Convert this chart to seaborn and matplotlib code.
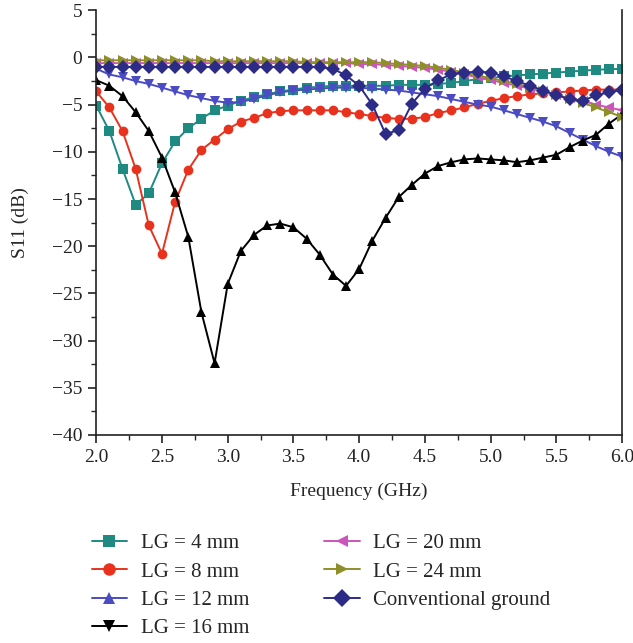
import numpy as np
import pandas as pd
import matplotlib
matplotlib.use("Agg")
import matplotlib.pyplot as plt
from matplotlib.lines import Line2D
from matplotlib.ticker import MultipleLocator
import seaborn as sns

# -----------------------------
# Data (S11 in dB, 2.0 - 6.0 GHz, 0.1 GHz step)
# -----------------------------
freq = [round(2.0 + 0.1 * i, 1) for i in range(41)]

lg4 = [-5.1, -7.8, -11.8, -15.6, -14.4, -11.2, -8.9, -7.5, -6.5, -5.6,
       -5.1, -4.6, -4.2, -3.9, -3.6, -3.4, -3.2, -3.1, -3.0, -3.0,
       -3.0, -3.0, -3.0, -2.9, -2.9, -2.9, -2.8, -2.7, -2.5, -2.3,
       -2.2, -2.0, -1.9, -1.8, -1.7, -1.6, -1.5, -1.4, -1.3, -1.25, -1.2]

lg8 = [-3.6, -5.3, -7.8, -11.8, -17.8, -20.8, -15.3, -11.9, -9.8, -8.7,
       -7.6, -6.8, -6.4, -5.9, -5.7, -5.6, -5.6, -5.6, -5.6, -5.8,
       -6.0, -6.2, -6.4, -6.5, -6.5, -6.3, -5.9, -5.6, -5.3, -4.9,
       -4.6, -4.3, -4.1, -3.9, -3.8, -3.7, -3.6, -3.5, -3.4, -3.4, -3.4]

lg12 = [-1.2, -1.8, -2.1, -2.5, -2.8, -3.2, -3.6, -4.0, -4.3, -4.6,
        -4.8, -4.7, -4.4, -4.0, -3.7, -3.5, -3.4, -3.3, -3.2, -3.2,
        -3.2, -3.3, -3.4, -3.5, -3.7, -3.9, -4.1, -4.4, -4.7, -5.0,
        -5.2, -5.6, -6.0, -6.4, -6.8, -7.3, -8.0, -8.7, -9.4, -10.0, -10.5]

lg16 = [-2.4, -3.0, -4.1, -5.8, -7.8, -10.6, -14.3, -19.0, -27.0, -32.4,
        -24.0, -20.5, -18.8, -17.8, -17.6, -18.0, -19.2, -20.9, -23.0, -24.2,
        -22.4, -19.4, -17.0, -14.8, -13.5, -12.3, -11.5, -11.1, -10.8, -10.7,
        -10.8, -10.9, -11.1, -10.9, -10.6, -10.3, -9.5, -8.8, -8.2, -7.0, -6.0]

lg20 = [-0.6, -0.6, -0.6, -0.6, -0.6, -0.6, -0.6, -0.6, -0.6, -0.6,
        -0.6, -0.6, -0.6, -0.6, -0.6, -0.6, -0.6, -0.6, -0.6, -0.6,
        -0.7, -0.7, -0.8, -0.9, -1.0, -1.1, -1.3, -1.5, -1.8, -2.1,
        -2.4, -2.7, -3.0, -3.3, -3.6, -4.0, -4.3, -4.6, -5.0, -5.3, -5.6]

lg24 = [-0.3, -0.3, -0.3, -0.3, -0.3, -0.3, -0.3, -0.3, -0.3, -0.4,
        -0.4, -0.4, -0.4, -0.4, -0.4, -0.4, -0.5, -0.5, -0.5, -0.5,
        -0.5, -0.5, -0.6, -0.7, -0.8, -0.9, -1.1, -1.3, -1.6, -1.9,
        -2.2, -2.5, -2.8, -3.2, -3.6, -4.0, -4.4, -4.8, -5.3, -5.8, -6.3]

conv = [-1.0, -1.0, -1.0, -1.0, -1.0, -1.0, -1.0, -1.0, -1.0, -1.0,
        -1.0, -1.0, -1.0, -1.0, -1.0, -1.0, -1.0, -1.0, -1.2, -1.9,
        -3.0, -5.0, -8.1, -7.7, -4.9, -3.3, -2.4, -1.8, -1.6, -1.5,
        -1.6, -2.0, -2.5, -3.0, -3.5, -4.0, -4.4, -4.6, -4.0, -3.7, -3.4]

labels = ["LG = 4 mm", "LG = 8 mm", "LG = 12 mm", "LG = 16 mm",
          "LG = 20 mm", "LG = 24 mm", "Conventional ground"]
series = [lg4, lg8, lg12, lg16, lg20, lg24, conv]
colors = ["#1e8a82", "#e8321e", "#4b4bc4", "#000000",
          "#cc55bb", "#8f8f2a", "#2c2c86"]
plot_markers = ["s", "o", "v", "^", "<", ">", "D"]
legend_markers = ["s", "o", "^", "v", "<", ">", "D"]

df = pd.DataFrame({
    "freq": freq * len(labels),
    "s11": [v for s in series for v in s],
    "series": [lab for lab in labels for _ in freq],
})

# -----------------------------
# Plot
# -----------------------------
sns.set_style("ticks")
plt.rcParams["font.family"] = ["Liberation Serif", "DejaVu Serif"]

fig = plt.figure(figsize=(6.33, 6.43), dpi=100)
ax = fig.add_axes([0.152, 0.3235, 0.831, 0.6605])

sns.lineplot(data=df, x="freq", y="s11", hue="series", style="series",
             hue_order=labels, style_order=labels,
             palette=dict(zip(labels, colors)),
             markers=dict(zip(labels, plot_markers)), dashes=False,
             markersize=7, markeredgewidth=0, linewidth=1.4,
             legend=False, ax=ax)

ax.set_xlim(2.0, 6.0)
ax.set_ylim(-40, 5)
ax.xaxis.set_major_locator(MultipleLocator(0.5))
ax.xaxis.set_minor_locator(MultipleLocator(0.25))
ax.yaxis.set_major_locator(MultipleLocator(5))
ax.yaxis.set_minor_locator(MultipleLocator(2.5))
ax.set_xticklabels([f"{t:.1f}" for t in ax.get_xticks()])
ax.set_yticklabels([f"{int(t)}".replace("-", "\u2212") for t in ax.get_yticks()])
ax.tick_params(which="major", direction="out", length=6, width=1.2,
               labelsize=14, colors="#222222", pad=4)
ax.tick_params(which="minor", direction="out", length=3.5, width=1.0)
ax.set_xlabel("Frequency (GHz)", fontsize=14, labelpad=12)
ax.set_ylabel("S11 (dB)", fontsize=14, labelpad=16)
ax.spines["top"].set_visible(False)
for side in ["left", "bottom", "right"]:
    ax.spines[side].set_linewidth(1.2)
    ax.spines[side].set_color("#222222")

handles = [Line2D([0], [0], color=c, marker=m, markersize=9,
                  markeredgewidth=0, linewidth=1.4)
           for c, m in zip(colors, legend_markers)]
fig.legend(handles, labels, loc="upper left", bbox_to_anchor=(0.145, 0.170),
           ncol=2, frameon=False, fontsize=15, handlelength=1.7,
           handletextpad=0.65, labelspacing=0.42, columnspacing=3.6,
           borderpad=0, borderaxespad=0)

plt.savefig("out.png", dpi=100)
